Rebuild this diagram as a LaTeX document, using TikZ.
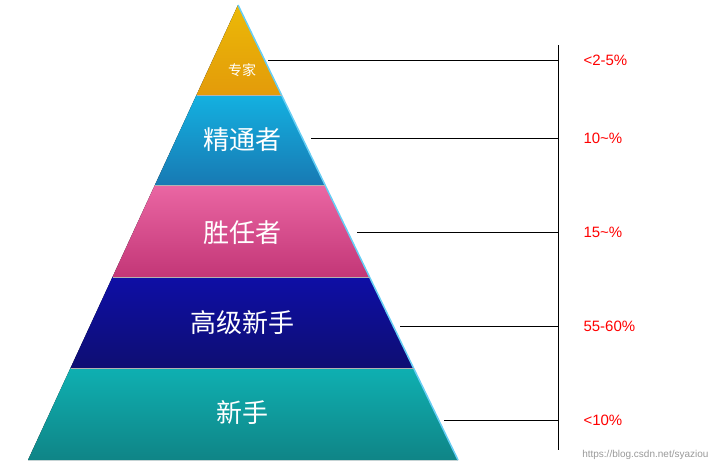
\documentclass[tikz,border=0pt]{standalone}
\usepackage{fontspec}
\setmainfont{Liberation Sans}
\newfontfamily\cjk{Noto Sans CJK SC}
\begin{document}
\begin{tikzpicture}[x=1pt,y=-1pt,
  layer/.style={draw=white!70!black, line width=0.4pt},
  lbl/.style={text=white, font=\cjk\fontsize{26}{28}\selectfont},
  pct/.style={text=red, font=\fontsize{15}{17}\selectfont, anchor=west},
  lead/.style={draw=black, line width=0.5pt}]
\useasboundingbox (0,0) rectangle (718,474);
\definecolor{cOr}{HTML}{E39B0A}
\definecolor{cBl}{HTML}{1C8FD3}
\definecolor{cPk}{HTML}{E5408C}
\definecolor{cDb}{HTML}{12128F}
\definecolor{cTl}{HTML}{129C9E}
% layers
\fill[top color=cOr!70!yellow, bottom color=cOr] (238,5) -- (196.5,95) -- (281.5,95) -- cycle;
\fill[top color=cBl!70!cyan, bottom color=cBl!85!black] (196.5,95) -- (154.9,185) -- (325,185) -- (281.5,95) -- cycle;
\fill[top color=cPk!80!white, bottom color=cPk!85!black] (154.9,185) -- (112.5,277) -- (369.5,277) -- (325,185) -- cycle;
\fill[top color=cDb!80!blue, bottom color=cDb!80!black] (112.5,277) -- (70.5,368) -- (413.5,368) -- (369.5,277) -- cycle;
\fill[top color=cTl!80!cyan, bottom color=cTl!85!black] (70.5,368) -- (28,460) -- (458,460) -- (413.5,368) -- cycle;
\draw[cyan!60!white, line width=1.5pt] (238,5) -- (458,460);
\draw[white!70!black, line width=0.4pt] (196.5,95) -- (281.5,95) (154.9,185) -- (325,185) (112.5,277) -- (369.5,277) (70.5,368) -- (413.5,368);
% labels
\node[text=white, font=\cjk\fontsize{14}{16}\selectfont] (n1) at (242,70) {专家};
\node[lbl] (n2) at (242,140) {精通者};
\node[lbl] (n3) at (242,233) {胜任者};
\node[lbl] (n4) at (242,323) {高级新手};
\node[lbl] (n5) at (242,413) {新手};
% leader lines
\coordinate (top) at (558,45);
\coordinate (bot) at (558,450);
\draw[lead] (top) -- (bot);
\coordinate (e1) at (268,60); \coordinate (v1) at (558,60);
\coordinate (e2) at (311,138); \coordinate (v2) at (558,138);
\coordinate (e3) at (357,232); \coordinate (v3) at (558,232);
\coordinate (e4) at (400,326); \coordinate (v4) at (558,326);
\coordinate (e5) at (444,420); \coordinate (v5) at (558,420);
\foreach \i in {1,...,5} {\draw[lead] (e\i) -- (v\i);}
\node[pct] (p1) at (580,60) {<2-5\%};
\node[pct] (p2) at (580,138) {10\textasciitilde\%};
\node[pct] (p3) at (580,232) {15\textasciitilde\%};
\node[pct] (p4) at (580,326) {55-60\%};
\node[pct] (p5) at (580,420) {<10\%};
\node[text=black!40, font=\fontsize{10}{12}\selectfont, anchor=east] (wm) at (712,455) {https://blog.csdn.net/syaziou};
\end{tikzpicture}
\end{document}
